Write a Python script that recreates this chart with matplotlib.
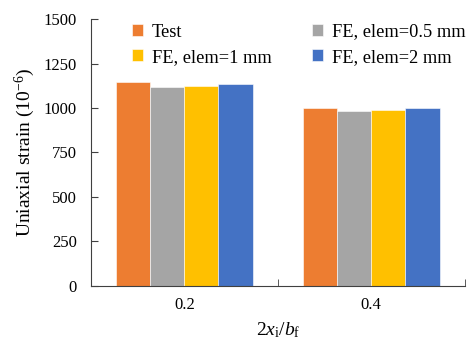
import numpy as np
import matplotlib
matplotlib.use('Agg')
import matplotlib.pyplot as plt

plt.rcParams['font.family'] = ['Liberation Serif', 'DejaVu Serif']
plt.rcParams['mathtext.fontset'] = 'custom'
plt.rcParams['mathtext.rm'] = 'Liberation Serif'
plt.rcParams['mathtext.it'] = 'Liberation Serif:italic'

# data
categories = ['0.2', '0.4']
series_names = ['Test', 'FE, elem=0.5 mm', 'FE, elem=1 mm', 'FE, elem=2 mm']
test_vals = [1147, 1000]
fe05_vals = [1118, 983]
fe1_vals = [1124, 989]
fe2_vals = [1135, 1000]
colors = ['#ED7D31', '#A5A5A5', '#FFC000', '#4472C4']

fig = plt.figure(figsize=(4.68, 3.40), dpi=100)
ax = fig.add_axes([0.194, 0.159, 0.799, 0.785])

x = np.arange(len(categories))
width = 0.183
all_vals = [test_vals, fe05_vals, fe1_vals, fe2_vals]
bars = []
for i, vals in enumerate(all_vals):
    b = ax.bar(x + (i - 1.5) * width, vals, width, color=colors[i],
               edgecolor='white', linewidth=0.4, label=series_names[i])
    bars.append(b)

ax.set_xlim(-0.5, 1.5)
ax.set_ylim(0, 1500)
ax.set_yticks([0, 250, 500, 750, 1000, 1250, 1500])
ax.set_xticks(x)
ax.set_xticklabels(categories)
ax.set_xticks([-0.5, 0.5, 1.5], minor=True)
ax.tick_params(axis='x', which='major', length=0, pad=8, labelsize=12)
ax.tick_params(axis='x', which='minor', direction='in', length=5, color='#404040')
ax.tick_params(axis='y', direction='in', length=5, color='#404040', labelsize=12, pad=10)

for s in ['top', 'right']:
    ax.spines[s].set_visible(False)
ax.spines['left'].set_color('#404040')
ax.spines['bottom'].set_color('#404040')

ax.set_ylabel('Uniaxial strain (10$^{-6}$)', fontsize=14, labelpad=5)
ax.set_xlabel(r'2$x_\mathrm{i}$/$b_\mathrm{f}$', fontsize=14, labelpad=5)

# legend order so that rows read Test / FE 0.5 then FE 1 / FE 2
order = [0, 2, 1, 3]
ax.legend([bars[k] for k in order], [series_names[k] for k in order],
          ncol=2, frameon=False, loc='upper left', bbox_to_anchor=(0.065, 1.045),
          fontsize=13.2, handlelength=0.6, handleheight=0.6, columnspacing=2.2,
          handletextpad=0.5, labelspacing=0.45)

fig.savefig('out.png', dpi=100)
